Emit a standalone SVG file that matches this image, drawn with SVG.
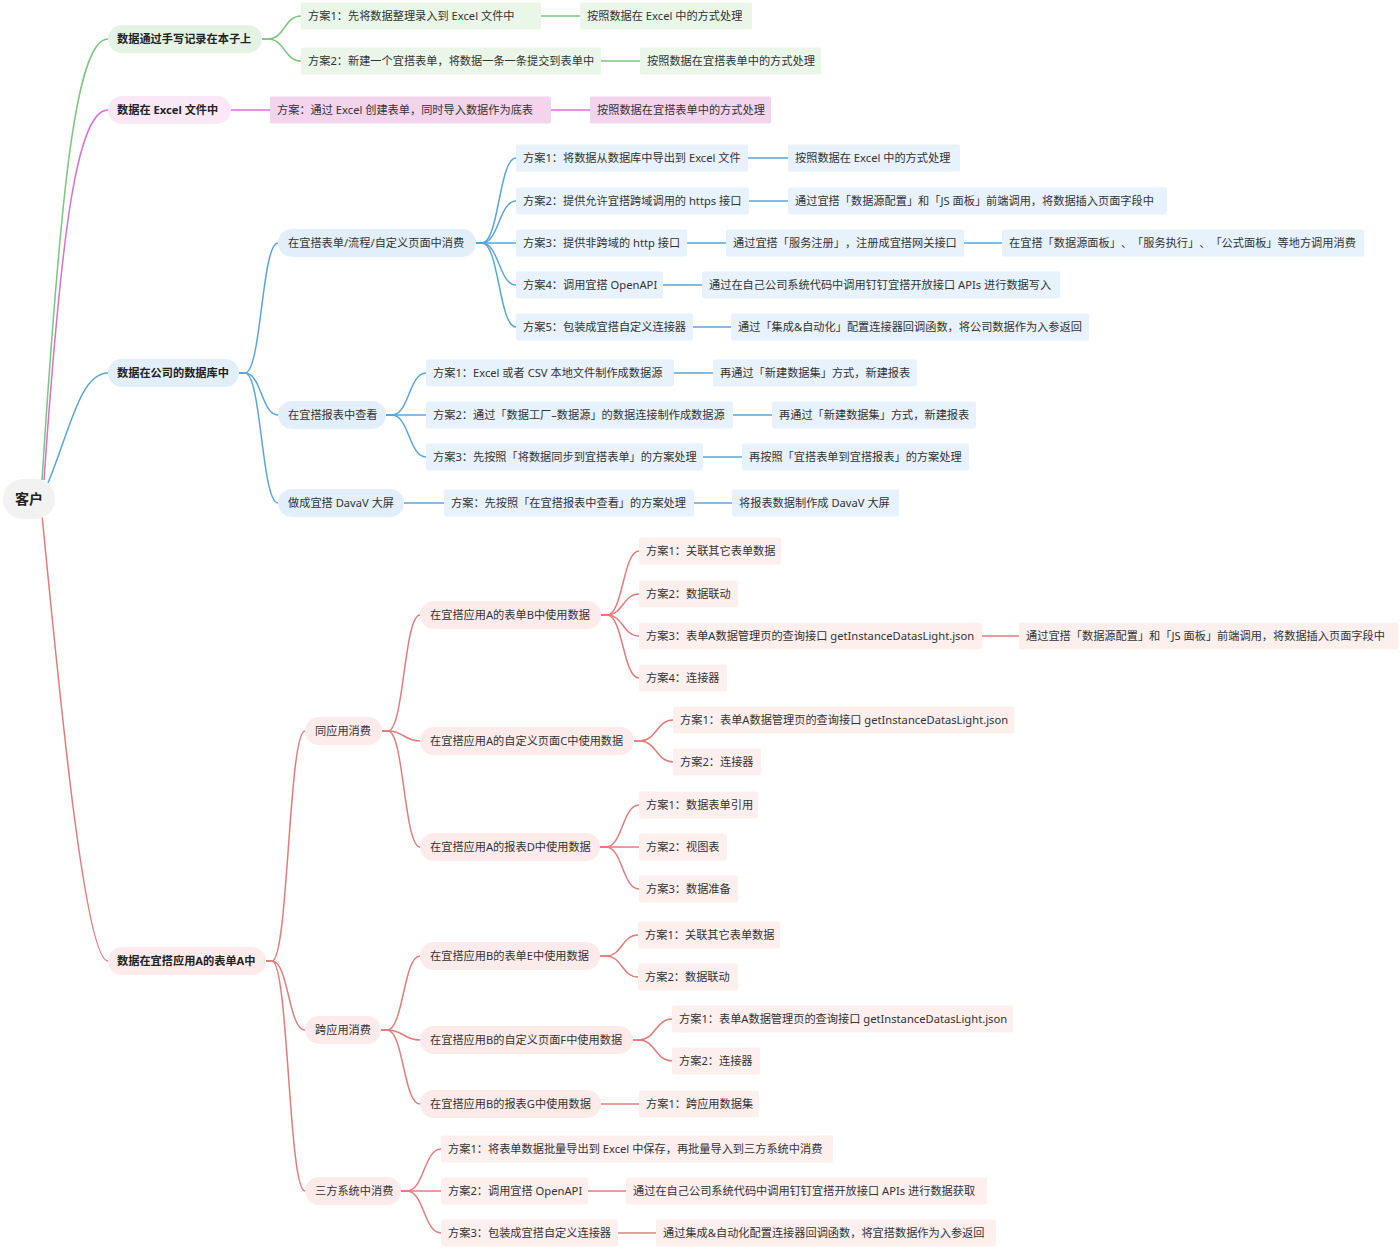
<svg xmlns="http://www.w3.org/2000/svg" width="1400" height="1251" viewBox="0 0 1400 1251">
<style>
text{font-family:"Noto Sans","Noto Sans CJK SC",sans-serif;font-size:11.2px;fill:#333;text-spacing-trim:space-all}
.b{font-weight:bold;fill:#222}
.root{font-size:14px;font-weight:bold;fill:#222}
.c path{fill:none;stroke-width:1.5}
.cg path{stroke:#7cc47f}
.cp path{stroke:#d86fd2}
.cb path{stroke:#5aa4dc}
.cr path{stroke:#e07c7c}
.pg{fill:#e4f3e3}.lg{fill:#e9f6e8}
.pp{fill:#fbe8f6}.lp{fill:#f3d4ed}
.pb{fill:#e2effa}.lb{fill:#e7f2fc}
.pr{fill:#fcebea}.lr{fill:#fcefee}
</style>
<rect width="1400" height="1251" fill="#ffffff"/>
<g id="connectors" class="c">
<g class="cg">
<path d="M42 480 C60 200 75 39 108 39"/>
<path d="M262 39 L268 39 C284.5 39 284.5 16 301 16"/>
<path d="M262 39 L268 39 C284.5 39 284.5 61 301 61"/>
<path d="M541 16 L580 16"/>
<path d="M601 61 L640 61"/>
</g>
<g class="cp">
<path d="M44 480 C60 250 75 110 108 110"/>
<path d="M231 110 L270 110"/>
<path d="M551 110 L590 110"/>
</g>
<g class="cb">
<path d="M48 483 C70 430 80 373 108 373"/>
<path d="M239 373 L245 373 C261.5 373 261.5 243 278 243"/>
<path d="M239 373 L245 373 C261.5 373 261.5 415 278 415"/>
<path d="M239 373 L245 373 C261.5 373 261.5 503 278 503"/>
<path d="M476 243 L482 243 C499 243 499 158 516 158"/>
<path d="M476 243 L482 243 C499 243 499 201 516 201"/>
<path d="M476 243 L516 243"/>
<path d="M476 243 L482 243 C499 243 499 285 516 285"/>
<path d="M476 243 L482 243 C499 243 499 327 516 327"/>
<path d="M748 158 L788 158"/>
<path d="M749 201 L788 201"/>
<path d="M687 243 L726 243"/>
<path d="M964 243 L1002 243"/>
<path d="M663 285 L702 285"/>
<path d="M693 327 L731 327"/>
<path d="M386 415 L392 415 C409 415 409 373 426 373"/>
<path d="M386 415 L426 415"/>
<path d="M386 415 L392 415 C409 415 409 457 426 457"/>
<path d="M674 373 L713 373"/>
<path d="M733 415 L772 415"/>
<path d="M703 457 L742 457"/>
<path d="M404 503 L444 503"/>
<path d="M694 503 L732 503"/>
</g>
<g class="cr">
<path d="M42 515 C60 700 85 961 108 961"/>
<path d="M266 961 L272 961 C288.5 961 288.5 731 305 731"/>
<path d="M266 961 L272 961 C288.5 961 288.5 1030 305 1030"/>
<path d="M266 961 L272 961 C288.5 961 288.5 1191 305 1191"/>
<path d="M382 731 L388 731 C404 731 404 615 420 615"/>
<path d="M382 731 L388 731 C404 731 404 741 420 741"/>
<path d="M382 731 L388 731 C404 731 404 847 420 847"/>
<path d="M601 615 L607 615 C623 615 623 551 639 551"/>
<path d="M601 615 L607 615 C623 615 623 594 639 594"/>
<path d="M601 615 L607 615 C623 615 623 636 639 636"/>
<path d="M601 615 L607 615 C623 615 623 678 639 678"/>
<path d="M982 636 L1019 636"/>
<path d="M634 741 L640 741 C656.5 741 656.5 720 673 720"/>
<path d="M634 741 L640 741 C656.5 741 656.5 762 673 762"/>
<path d="M600 847 L606 847 C622.5 847 622.5 805 639 805"/>
<path d="M600 847 L639 847"/>
<path d="M600 847 L606 847 C622.5 847 622.5 889 639 889"/>
<path d="M381 1030 L387 1030 C403.5 1030 403.5 956 420 956"/>
<path d="M381 1030 L387 1030 C403.5 1030 403.5 1040 420 1040"/>
<path d="M381 1030 L387 1030 C403.5 1030 403.5 1104 420 1104"/>
<path d="M600 956 L606 956 C622 956 622 935 638 935"/>
<path d="M600 956 L606 956 C622 956 622 977 638 977"/>
<path d="M633 1040 L639 1040 C655.5 1040 655.5 1019 672 1019"/>
<path d="M633 1040 L639 1040 C655.5 1040 655.5 1061 672 1061"/>
<path d="M601 1104 L639 1104"/>
<path d="M401 1191 L407 1191 C424 1191 424 1149 441 1149"/>
<path d="M401 1191 L441 1191"/>
<path d="M401 1191 L407 1191 C424 1191 424 1233 441 1233"/>
<path d="M588 1191 L626 1191"/>
<path d="M618 1233 L656 1233"/>
</g>
</g>

<g id="root"><rect x="3" y="479" width="52" height="40" rx="20" fill="#f2f2f2"/><text class="root" x="15" y="504">客户</text></g>

<g id="g1"><rect class="pg" x="108" y="25" width="154" height="28" rx="14"/><text class="b" x="117" y="43">数据通过手写记录在本子上</text></g>
<g id="g1a"><rect class="lg" x="301" y="2.5" width="240" height="27" rx="2"/><text x="308" y="20">方案1：先将数据整理录入到 Excel 文件中</text></g>
<g id="g1a1"><rect class="lg" x="580" y="2.5" width="172" height="27" rx="2"/><text x="587" y="20">按照数据在 Excel 中的方式处理</text></g>
<g id="g1b"><rect class="lg" x="301" y="47.5" width="300" height="27" rx="2"/><text x="308" y="65">方案2：新建一个宜搭表单，将数据一条一条提交到表单中</text></g>
<g id="g1b1"><rect class="lg" x="640" y="47.5" width="181" height="27" rx="2"/><text x="647" y="65">按照数据在宜搭表单中的方式处理</text></g>

<g id="p1"><rect class="pp" x="108" y="96" width="123" height="28" rx="14"/><text class="b" x="117" y="114">数据在 Excel 文件中</text></g>
<g id="p1a"><rect class="lp" x="270" y="96.5" width="281" height="27" rx="2"/><text x="277" y="114">方案：通过 Excel 创建表单，同时导入数据作为底表</text></g>
<g id="p1a1"><rect class="lp" x="590" y="96.5" width="181" height="27" rx="2"/><text x="597" y="114">按照数据在宜搭表单中的方式处理</text></g>

<g id="b1"><rect class="pb" x="108" y="359" width="131" height="28" rx="14"/><text class="b" x="117" y="377">数据在公司的数据库中</text></g>
<g id="ba"><rect class="pb" x="278" y="229" width="198" height="28" rx="14"/><text x="288" y="247">在宜搭表单/流程/自定义页面中消费</text></g>
<g id="ba1"><rect class="lb" x="516" y="144.5" width="232" height="27" rx="2"/><text x="523" y="162">方案1：将数据从数据库中导出到 Excel 文件</text></g>
<g id="ba1a"><rect class="lb" x="788" y="144.5" width="172" height="27" rx="2"/><text x="795" y="162">按照数据在 Excel 中的方式处理</text></g>
<g id="ba2"><rect class="lb" x="516" y="187.5" width="233" height="27" rx="2"/><text x="523" y="205">方案2：提供允许宜搭跨域调用的 https 接口</text></g>
<g id="ba2a"><rect class="lb" x="788" y="187.5" width="379" height="27" rx="2"/><text x="795" y="205">通过宜搭「数据源配置」和「JS 面板」前端调用，将数据插入页面字段中</text></g>
<g id="ba3"><rect class="lb" x="516" y="229.5" width="171" height="27" rx="2"/><text x="523" y="247">方案3：提供非跨域的 http 接口</text></g>
<g id="ba3a"><rect class="lb" x="726" y="229.5" width="238" height="27" rx="2"/><text x="733" y="247">通过宜搭「服务注册」，注册成宜搭网关接口</text></g>
<g id="ba3b"><rect class="lb" x="1002" y="229.5" width="362" height="27" rx="2"/><text x="1009" y="247">在宜搭「数据源面板」、「服务执行」、「公式面板」等地方调用消费</text></g>
<g id="ba4"><rect class="lb" x="516" y="271.5" width="147" height="27" rx="2"/><text x="523" y="289">方案4：调用宜搭 OpenAPI</text></g>
<g id="ba4a"><rect class="lb" x="702" y="271.5" width="358" height="27" rx="2"/><text x="709" y="289">通过在自己公司系统代码中调用钉钉宜搭开放接口 APIs 进行数据写入</text></g>
<g id="ba5"><rect class="lb" x="516" y="313.5" width="177" height="27" rx="2"/><text x="523" y="331">方案5：包装成宜搭自定义连接器</text></g>
<g id="ba5a"><rect class="lb" x="731" y="313.5" width="358" height="27" rx="2"/><text x="738" y="331">通过「集成&amp;自动化」配置连接器回调函数，将公司数据作为入参返回</text></g>

<g id="bb"><rect class="pb" x="278" y="401" width="108" height="28" rx="14"/><text x="288" y="419">在宜搭报表中查看</text></g>
<g id="bb1"><rect class="lb" x="426" y="359.5" width="248" height="27" rx="2"/><text x="433" y="377">方案1：Excel 或者 CSV 本地文件制作成数据源</text></g>
<g id="bb1a"><rect class="lb" x="713" y="359.5" width="204" height="27" rx="2"/><text x="720" y="377">再通过「新建数据集」方式，新建报表</text></g>
<g id="bb2"><rect class="lb" x="426" y="401.5" width="307" height="27" rx="2"/><text x="433" y="419">方案2：通过「数据工厂–数据源」的数据连接制作成数据源</text></g>
<g id="bb2a"><rect class="lb" x="772" y="401.5" width="204" height="27" rx="2"/><text x="779" y="419">再通过「新建数据集」方式，新建报表</text></g>
<g id="bb3"><rect class="lb" x="426" y="443.5" width="277" height="27" rx="2"/><text x="433" y="461">方案3：先按照「将数据同步到宜搭表单」的方案处理</text></g>
<g id="bb3a"><rect class="lb" x="742" y="443.5" width="227" height="27" rx="2"/><text x="749" y="461">再按照「宜搭表单到宜搭报表」的方案处理</text></g>

<g id="bc"><rect class="pb" x="278" y="489" width="126" height="28" rx="14"/><text x="288" y="507">做成宜搭 DavaV 大屏</text></g>
<g id="bc1"><rect class="lb" x="444" y="489.5" width="250" height="27" rx="2"/><text x="451" y="507">方案：先按照「在宜搭报表中查看」的方案处理</text></g>
<g id="bc1a"><rect class="lb" x="732" y="489.5" width="167" height="27" rx="2"/><text x="739" y="507">将报表数据制作成 DavaV 大屏</text></g>

<g id="r1"><rect class="pr" x="108" y="947" width="158" height="28" rx="14"/><text class="b" x="117" y="965">数据在宜搭应用A的表单A中</text></g>
<g id="ra"><rect class="pr" x="305" y="717" width="77" height="28" rx="14"/><text x="315" y="735">同应用消费</text></g>
<g id="raa"><rect class="pr" x="420" y="601" width="181" height="28" rx="14"/><text x="430" y="619">在宜搭应用A的表单B中使用数据</text></g>
<g id="raa1"><rect class="lr" x="639" y="537.5" width="142" height="27" rx="2"/><text x="646" y="555">方案1：关联其它表单数据</text></g>
<g id="raa2"><rect class="lr" x="639" y="580.5" width="99" height="27" rx="2"/><text x="646" y="598">方案2：数据联动</text></g>
<g id="raa3"><rect class="lr" x="639" y="622.5" width="343" height="27" rx="2"/><text x="646" y="640">方案3：表单A数据管理页的查询接口 getInstanceDatasLight.json</text></g>
<g id="raa3a"><rect class="lr" x="1019" y="622.5" width="379" height="27" rx="2"/><text x="1026" y="640">通过宜搭「数据源配置」和「JS 面板」前端调用，将数据插入页面字段中</text></g>
<g id="raa4"><rect class="lr" x="639" y="664.5" width="88" height="27" rx="2"/><text x="646" y="682">方案4：连接器</text></g>
<g id="rab"><rect class="pr" x="420" y="727" width="214" height="28" rx="14"/><text x="430" y="745">在宜搭应用A的自定义页面C中使用数据</text></g>
<g id="rab1"><rect class="lr" x="673" y="706.5" width="341" height="27" rx="2"/><text x="680" y="724">方案1：表单A数据管理页的查询接口 getInstanceDatasLight.json</text></g>
<g id="rab2"><rect class="lr" x="673" y="748.5" width="88" height="27" rx="2"/><text x="680" y="766">方案2：连接器</text></g>
<g id="rac"><rect class="pr" x="420" y="833" width="180" height="28" rx="14"/><text x="430" y="851">在宜搭应用A的报表D中使用数据</text></g>
<g id="rac1"><rect class="lr" x="639" y="791.5" width="119" height="27" rx="2"/><text x="646" y="809">方案1：数据表单引用</text></g>
<g id="rac2"><rect class="lr" x="639" y="833.5" width="88" height="27" rx="2"/><text x="646" y="851">方案2：视图表</text></g>
<g id="rac3"><rect class="lr" x="639" y="875.5" width="99" height="27" rx="2"/><text x="646" y="893">方案3：数据准备</text></g>

<g id="rb"><rect class="pr" x="305" y="1016" width="76" height="28" rx="14"/><text x="315" y="1034">跨应用消费</text></g>
<g id="rba"><rect class="pr" x="420" y="942" width="180" height="28" rx="14"/><text x="430" y="960">在宜搭应用B的表单E中使用数据</text></g>
<g id="rba1"><rect class="lr" x="638" y="921.5" width="142" height="27" rx="2"/><text x="645" y="939">方案1：关联其它表单数据</text></g>
<g id="rba2"><rect class="lr" x="638" y="963.5" width="100" height="27" rx="2"/><text x="645" y="981">方案2：数据联动</text></g>
<g id="rbb"><rect class="pr" x="420" y="1026" width="213" height="28" rx="14"/><text x="430" y="1044">在宜搭应用B的自定义页面F中使用数据</text></g>
<g id="rbb1"><rect class="lr" x="672" y="1005.5" width="341" height="27" rx="2"/><text x="679" y="1023">方案1：表单A数据管理页的查询接口 getInstanceDatasLight.json</text></g>
<g id="rbb2"><rect class="lr" x="672" y="1047.5" width="88" height="27" rx="2"/><text x="679" y="1065">方案2：连接器</text></g>
<g id="rbc"><rect class="pr" x="420" y="1090" width="181" height="28" rx="14"/><text x="430" y="1108">在宜搭应用B的报表G中使用数据</text></g>
<g id="rbc1"><rect class="lr" x="639" y="1090.5" width="120" height="27" rx="2"/><text x="646" y="1108">方案1：跨应用数据集</text></g>

<g id="rc"><rect class="pr" x="305" y="1177" width="96" height="28" rx="14"/><text x="315" y="1195">三方系统中消费</text></g>
<g id="rc1"><rect class="lr" x="441" y="1135.5" width="392" height="27" rx="2"/><text x="448" y="1153">方案1：将表单数据批量导出到 Excel 中保存，再批量导入到三方系统中消费</text></g>
<g id="rc2"><rect class="lr" x="441" y="1177.5" width="147" height="27" rx="2"/><text x="448" y="1195">方案2：调用宜搭 OpenAPI</text></g>
<g id="rc2a"><rect class="lr" x="626" y="1177.5" width="361" height="27" rx="2"/><text x="633" y="1195">通过在自己公司系统代码中调用钉钉宜搭开放接口 APIs 进行数据获取</text></g>
<g id="rc3"><rect class="lr" x="441" y="1219.5" width="177" height="27" rx="2"/><text x="448" y="1237">方案3：包装成宜搭自定义连接器</text></g>
<g id="rc3a"><rect class="lr" x="656" y="1219.5" width="340" height="27" rx="2"/><text x="663" y="1237">通过集成&amp;自动化配置连接器回调函数，将宜搭数据作为入参返回</text></g>
</svg>
